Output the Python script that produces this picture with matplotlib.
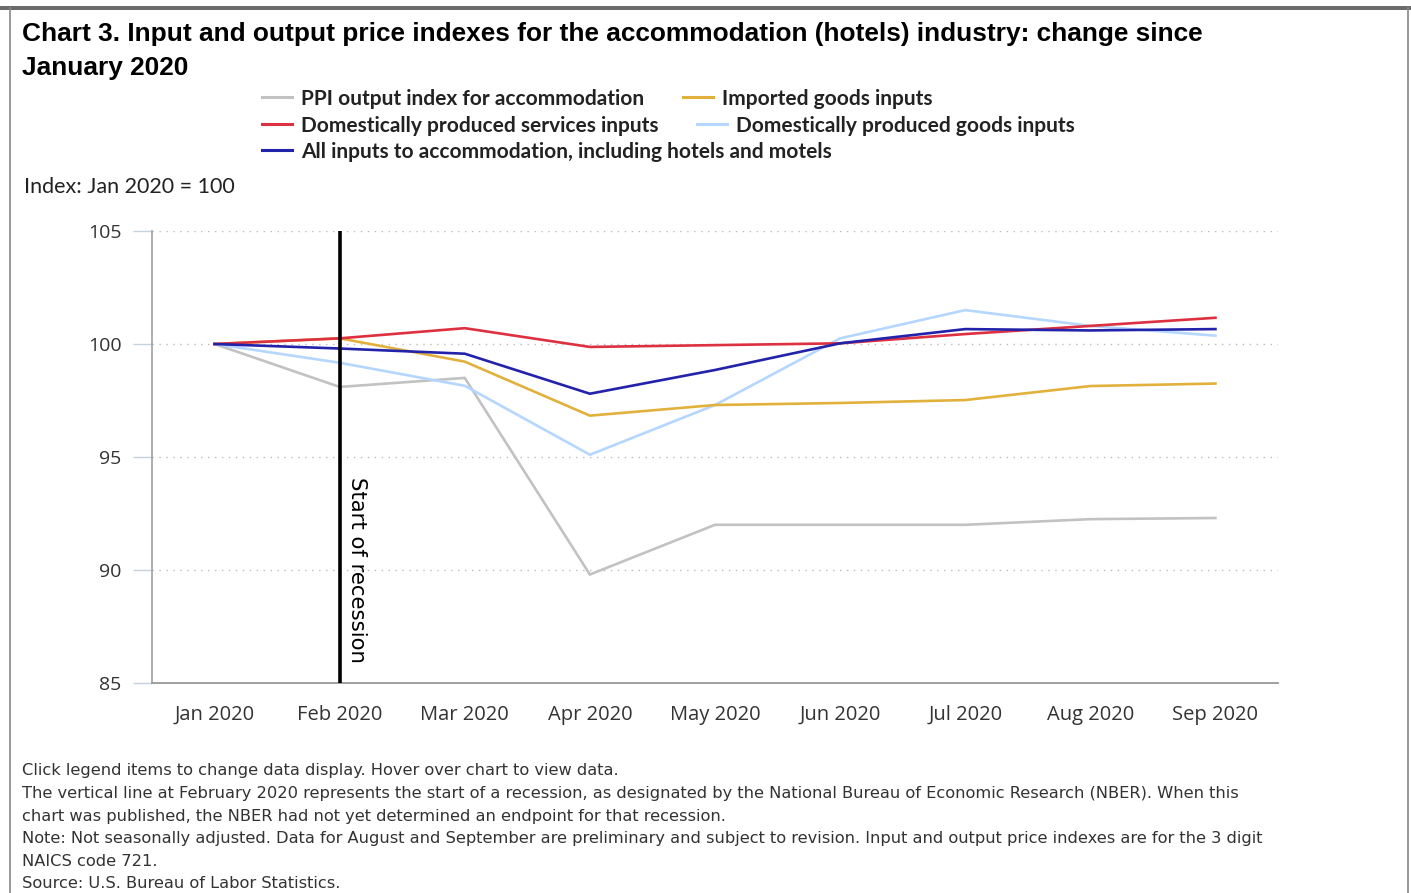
import matplotlib.pyplot as plt
from matplotlib.lines import Line2D
from matplotlib.patches import Rectangle

months = ['Jan 2020', 'Feb 2020', 'Mar 2020', 'Apr 2020', 'May 2020',
          'Jun 2020', 'Jul 2020', 'Aug 2020', 'Sep 2020']

ppi_output = [100.0, 98.1, 98.5, 89.8, 92.0, 92.0, 92.0, 92.25, 92.3]
dom_services = [100.0, 100.25, 100.7, 99.87, 99.95, 100.03, 100.44, 100.8, 101.16]
all_inputs = [100.0, 99.8, 99.57, 97.8, 98.85, 100.03, 100.66, 100.6, 100.66]
imported_goods = [100.0, 100.25, 99.22, 96.83, 97.3, 97.39, 97.52, 98.14, 98.25]
dom_goods = [100.0, 99.17, 98.15, 95.1, 97.3, 100.25, 101.5, 100.8, 100.37]

series = [
    ('PPI output index for accommodation', ppi_output, '#c2c2c2'),
    ('Domestically produced services inputs', dom_services, '#dd3040'),
    ('All inputs to accommodation, including hotels and motels', all_inputs, '#2222aa'),
    ('Imported goods inputs', imported_goods, '#e2b13c'),
    ('Domestically produced goods inputs', dom_goods, '#b5d7ff'),
]
# draw order (light blue under, all inputs on top)
draw_order = [0, 4, 3, 1, 2]

W, H = 1411, 893
fig = plt.figure(figsize=(W / 100, H / 100), dpi=100)
ax = fig.add_axes([152 / W, 1 - 683 / H, (1278 - 152) / W, (683 - 231) / H])

x = list(range(len(months)))
for i in draw_order:
    name, vals, col = series[i]
    ax.plot(x, vals, color=col, lw=1.9, solid_joinstyle='miter', zorder=3)

# recession marker at Feb 2020
ax.axvline(1, color='black', lw=2.6, zorder=4)
ax.text(1.055, 90.0, 'Start of recession', rotation=-90, ha='left', va='center',
        fontsize=15.3, family='DejaVu Sans', color='black')

ax.set_xlim(-0.5, 8.5)
ax.set_ylim(85, 105)
ax.set_yticks([85, 90, 95, 100, 105])
ax.set_xticks(x)
ax.set_xticklabels(months)
for v in [90, 95, 100, 105]:
    ax.axhline(v, color='#bbbbbb', lw=1.0, ls=(0, (1, 4)), zorder=1)

for s in ['top', 'right']:
    ax.spines[s].set_visible(False)
ax.spines['left'].set_color('#a8a8a8')
ax.spines['left'].set_linewidth(1.3)
ax.spines['bottom'].set_color('#999999')
ax.spines['bottom'].set_linewidth(1.3)
ax.tick_params(axis='y', length=14, width=1.0, color='#c6d1de', pad=8,
               labelsize=14, labelcolor='#333333')
ax.tick_params(axis='x', length=0, pad=26.5, labelsize=14.5, labelcolor='#333333')
for lab in ax.get_yticklabels():
    lab.set_family('Open Sans')
for lab in ax.get_xticklabels():
    lab.set_family('Open Sans')
    lab.set_verticalalignment('baseline')

# title
fig.text(22 / W, 1 - 22 / H, 'Chart 3. Input and output price indexes for the accommodation (hotels) industry: change since\nJanuary 2020',
         ha='left', va='top', fontsize=18.9, fontweight='bold', family='Liberation Sans',
         linespacing=1.55, color='black')

# legend, laid out like the original
legend_pos = [(0, 262, 97), (1, 262, 124), (2, 262, 150), (3, 683, 97), (4, 697, 124)]
for i, hx, hy in legend_pos:
    name, vals, col = series[i]
    fig.lines.append(Line2D([hx / W, (hx + 30) / W], [1 - hy / H, 1 - hy / H],
                            color=col, lw=2.2, transform=fig.transFigure))
    fig.text((hx + 39) / W, 1 - (hy + 2) / H, name, ha='left', va='center',
             fontsize=15, fontweight='bold', family='Lato', color='#222222')

fig.text(24 / W, 1 - 187 / H, 'Index: Jan 2020 = 100', ha='left', va='center',
         fontsize=15.5, family='Lato', color='#222222')

notes = [
    'Click legend items to change data display. Hover over chart to view data.',
    'The vertical line at February 2020 represents the start of a recession, as designated by the National Bureau of Economic Research (NBER). When this',
    'chart was published, the NBER had not yet determined an endpoint for that recession.',
    'Note: Not seasonally adjusted. Data for August and September are preliminary and subject to revision. Input and output price indexes are for the 3 digit',
    'NAICS code 721.',
    'Source: U.S. Bureau of Labor Statistics.',
]
for k, line in enumerate(notes):
    fig.text(22 / W, 1 - (771 + 22.5 * k) / H, line, ha='left', va='center',
             fontsize=11.7, family='DejaVu Sans', color='#333333')

# page frame
fig.patches.append(Rectangle((0, 1 - 10 / H), 1, 4 / H, transform=fig.transFigure,
                             facecolor='#6b6b6b', edgecolor='none'))
fig.lines.append(Line2D([10 / W, 10 / W], [0, 1 - 8 / H], color='#888888', lw=1.2,
                        transform=fig.transFigure))
fig.lines.append(Line2D([1408 / W, 1408 / W], [0, 1 - 8 / H], color='#888888', lw=1.2,
                        transform=fig.transFigure))

fig.savefig('out.png', dpi=100)
